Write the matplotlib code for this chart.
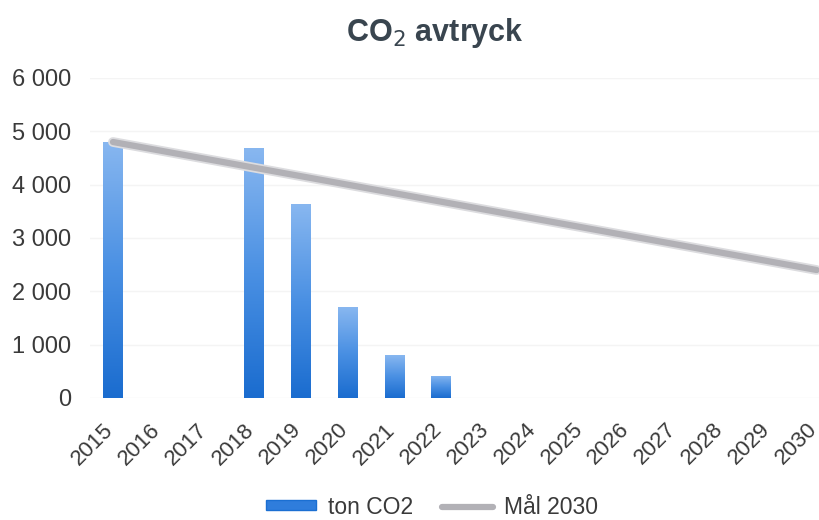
import numpy as np
import matplotlib.pyplot as plt
import matplotlib.transforms as mtransforms
from matplotlib.ticker import FuncFormatter
from matplotlib.lines import Line2D
from matplotlib.patches import Rectangle
from matplotlib.colors import LinearSegmentedColormap

plt.rcParams['font.family'] = ['Liberation Sans', 'DejaVu Sans']

# Yearly CO2 footprint (tons) and the 2030 target line
years = ['2015', '2016', '2017', '2018', '2019', '2020', '2021', '2022',
         '2023', '2024', '2025', '2026', '2027', '2028', '2029', '2030']
ton_co2 = [4800, 0, 0, 4680, 3630, 1700, 800, 420,
           0, 0, 0, 0, 0, 0, 0, 0]
mal_2030 = [4800, 4640, 4480, 4320, 4160, 4000, 3840, 3680,
            3520, 3360, 3200, 3040, 2880, 2720, 2560, 2400]

text_col = '#3a3a3a'
fig = plt.figure(figsize=(8.19, 5.20), dpi=100)
ax = fig.add_axes([89.5 / 819, 122 / 520, 1 - 89.5 / 819, 320 / 520])

x = np.arange(len(years))
bars = ax.bar(x, ton_co2, width=0.42, color='none', zorder=2)

# vertical gradient inside each bar: light blue on top, deeper blue at the base
grad = np.linspace(0, 1, 256).reshape(-1, 1)
cmap = LinearSegmentedColormap.from_list('barblue', ['#1a6ccf', '#4a90e3', '#88b7f0'])
for b in bars:
    h = b.get_height()
    if h <= 0:
        continue
    x0 = b.get_x()
    w = b.get_width()
    im = ax.imshow(grad, cmap=cmap, origin='lower', aspect='auto',
                   extent=(x0, x0 + w, 0, h), zorder=2)
    im.set_clip_path(b)

ax.plot(x, mal_2030, color='#dcdcdf', lw=7, solid_capstyle='round', zorder=3)
ax.plot(x, mal_2030, color='#b2b1b6', lw=4.5, solid_capstyle='round', zorder=3)

ax.set_xlim(-0.5, 15.05)
ax.set_ylim(0, 6000)
ax.set_yticks(range(0, 6001, 1000))
ax.yaxis.set_major_formatter(FuncFormatter(lambda v, p: f'{int(v):,}'.replace(',', ' ')))
ax.set_xticks(x)
ax.set_xticklabels(years, rotation=45, ha='right', rotation_mode='anchor')
ax.tick_params(axis='y', length=0, labelsize=17, colors=text_col, pad=13)
ax.tick_params(axis='x', length=0, labelsize=16, colors=text_col, pad=8)
shift = mtransforms.ScaledTranslation(-0.1, -0.1, fig.dpi_scale_trans)
for lbl in ax.get_xticklabels():
    lbl.set_transform(lbl.get_transform() + shift)
ax.grid(axis='y', color='#f4f4f4', lw=1)
ax.set_axisbelow(True)
for s in ax.spines.values():
    s.set_visible(False)

fig.text(435 / 819, 1 - 33 / 520, 'CO$_2$ avtryck', ha='center', va='center',
         fontsize=22, fontweight='bold', color='#39454f')

handles = [Rectangle((0, 0), 1, 1, facecolor='#2f7ddc', edgecolor='#1b6fd2'),
           Line2D([], [], color='#b2b1b6', lw=4.5, solid_capstyle='round')]
fig.legend(handles, ['ton CO2', 'Mål 2030'], loc='center', bbox_to_anchor=(432 / 819, 1 - 507 / 520),
           ncol=2, frameon=False, fontsize=16.5, handlelength=2.2, handleheight=0.3,
           handletextpad=0.5, columnspacing=1.3, labelcolor=text_col)

fig.savefig('out.png', dpi=100)
